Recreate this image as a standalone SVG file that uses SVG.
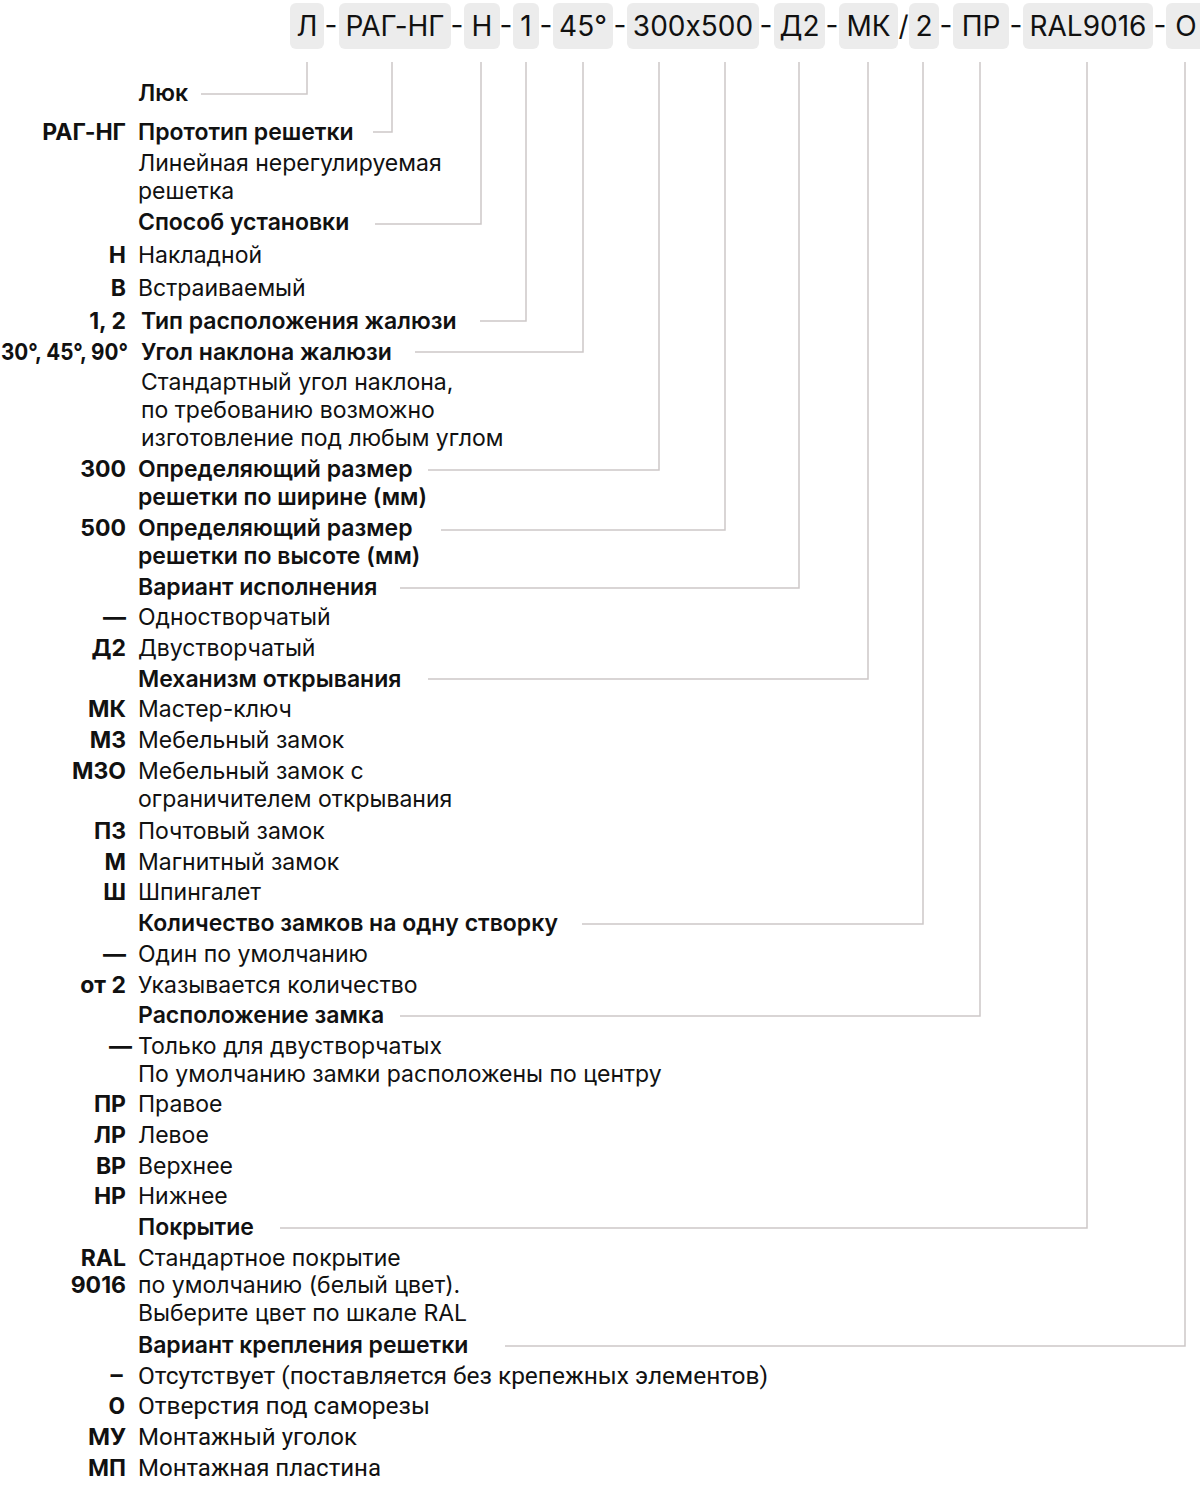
<svg xmlns="http://www.w3.org/2000/svg" width="1200" height="1485" viewBox="0 0 1200 1485">
<style>
text{font-family:Inter,"Noto Sans","Liberation Sans",sans-serif;fill:#111;font-feature-settings:"calt" 0}
.code{font-size:28px;text-anchor:middle}
.sep{font-size:28px;text-anchor:middle}
.box{fill:#ececec}
.h{font-size:23px;font-weight:600}
.k{font-size:23px;font-weight:700;text-anchor:end}
.b{font-size:23px;font-weight:400}
.c{font-family:Roboto,"Liberation Sans",sans-serif;font-size:24px}
.ck{font-family:Roboto,"Liberation Sans",sans-serif;font-size:24px;font-weight:700;text-anchor:end}
.ln{fill:none;stroke:#cdc8c8;stroke-width:1.5}
</style>
<rect width="1200" height="1485" fill="#fff"/>
<g id="code">
<rect class="box" x="290" y="3" width="34" height="46" rx="6"/><text class="code" x="307" y="36">Л</text>
<text class="sep" x="331" y="35">-</text>
<rect class="box" x="339" y="3" width="112" height="46" rx="6"/><text class="code" x="395" y="36">РАГ-НГ</text>
<text class="sep" x="457" y="35">-</text>
<rect class="box" x="464" y="3" width="36" height="46" rx="6"/><text class="code" x="482" y="36">Н</text>
<text class="sep" x="506" y="35">-</text>
<rect class="box" x="513" y="3" width="26" height="46" rx="6"/><text class="code" x="526" y="36">1</text>
<text class="sep" x="546" y="35">-</text>
<rect class="box" x="553" y="3" width="60" height="46" rx="6"/><text class="code" x="583" y="36">45°</text>
<text class="sep" x="620" y="35">-</text>
<rect class="box" x="627" y="3" width="132" height="46" rx="6"/><text class="code" x="693" y="36">300x500</text>
<text class="sep" x="766" y="35">-</text>
<rect class="box" x="774" y="3" width="51" height="46" rx="6"/><text class="code" x="799.5" y="36">Д2</text>
<text class="sep" x="832" y="35">-</text>
<rect class="box" x="839" y="3" width="59" height="46" rx="6"/><text class="code" x="868.5" y="36">МК</text>
<text class="sep" x="903.5" y="36">/</text>
<rect class="box" x="909" y="3" width="30" height="46" rx="6"/><text class="code" x="924" y="36">2</text>
<text class="sep" x="946" y="35">-</text>
<rect class="box" x="953" y="3" width="56" height="46" rx="6"/><text class="code" x="981" y="36">ПР</text>
<text class="sep" x="1016" y="35">-</text>
<rect class="box" x="1023" y="3" width="130" height="46" rx="6"/><text class="code" x="1088" y="36">RAL9016</text>
<text class="sep" x="1160" y="35">-</text>
<rect class="box" x="1166" y="3" width="48" height="46" rx="6"/><text class="code" x="1186" y="36">О</text>
</g>
<g id="connectors">
<path class="ln" d="M307 62V94H201"/>
<path class="ln" d="M392 62V132H373"/>
<path class="ln" d="M481 62V224H375"/>
<path class="ln" d="M526 62V321H480"/>
<path class="ln" d="M583 62V352H415"/>
<path class="ln" d="M659 62V470H428"/>
<path class="ln" d="M725 62V530H441"/>
<path class="ln" d="M799 62V588H400"/>
<path class="ln" d="M868 62V679H428"/>
<path class="ln" d="M923 62V924H582"/>
<path class="ln" d="M980 62V1016H400"/>
<path class="ln" d="M1087 62V1228H280"/>
<path class="ln" d="M1185 62V1346H505"/>
</g>
<g id="n-luk"><text class="h" x="138" y="101">Люк</text></g>
<g id="n-prototype">
<text class="k" x="126" y="140">РАГ-НГ</text><text class="h" x="138" y="140">Прототип решетки</text>
<text class="b" x="138" y="171">Линейная нерегулируемая</text>
<text class="b" x="138" y="199">решетка</text>
</g>
<g id="n-install">
<text class="h" x="138" y="230">Способ установки</text>
<text class="k" x="126" y="263">Н</text><text class="b" x="138" y="263">Накладной</text>
<text class="k" x="126" y="296">В</text><text class="b" x="138" y="296">Встраиваемый</text>
</g>
<g id="n-type"><text class="k" x="126" y="329">1, 2</text><text class="h" x="141" y="329">Тип расположения жалюзи</text></g>
<g id="n-angle">
<text class="k" x="128" y="360" textLength="127" lengthAdjust="spacingAndGlyphs">30°, 45°, 90°</text><text class="h" x="141" y="360">Угол наклона жалюзи</text>
<text class="b" x="141" y="390">Стандартный угол наклона,</text>
<text class="b" x="141" y="418">по требованию возможно</text>
<text class="b" x="141" y="446">изготовление под любым углом</text>
</g>
<g id="n-width">
<text class="k" x="126" y="477">300</text><text class="h" x="138" y="477">Определяющий размер</text>
<text class="h" x="138" y="505">решетки по ширине (мм)</text>
</g>
<g id="n-height">
<text class="k" x="126" y="536">500</text><text class="h" x="138" y="536">Определяющий размер</text>
<text class="h" x="138" y="564">решетки по высоте (мм)</text>
</g>
<g id="n-variant">
<text class="h" x="138" y="595">Вариант исполнения</text>
<text class="k" x="126" y="625">—</text><text class="b" x="138" y="625">Одностворчатый</text>
<text class="k" x="126" y="656">Д2</text><text class="b" x="138" y="656">Двустворчатый</text>
</g>
<g id="n-mechanism">
<text class="h" x="138" y="687">Механизм открывания</text>
<text class="k" x="126" y="717">МК</text><text class="b" x="138" y="717">Мастер-ключ</text>
<text class="k" x="126" y="748">МЗ</text><text class="b" x="138" y="748">Мебельный замок</text>
<text class="k" x="126" y="779">МЗО</text><text class="b" x="138" y="779">Мебельный замок с</text>
<text class="b" x="138" y="807">ограничителем открывания</text>
<text class="k" x="126" y="839">ПЗ</text><text class="b" x="138" y="839">Почтовый замок</text>
<text class="k" x="126" y="870">М</text><text class="b" x="138" y="870">Магнитный замок</text>
<text class="k" x="126" y="900">Ш</text><text class="b" x="138" y="900">Шпингалет</text>
</g>
<g id="n-count">
<text class="h" x="138" y="931">Количество замков на одну створку</text>
<text class="k" x="126" y="962">—</text><text class="b" x="138" y="962">Один по умолчанию</text>
<text class="k" x="126" y="993">от 2</text><text class="b" x="138" y="993">Указывается количество</text>
</g>
<g id="n-position">
<text class="h" x="138" y="1023">Расположение замка</text>
<text class="k" x="132" y="1054">—</text><text class="b" x="138" y="1054">Только для двустворчатых</text>
<text class="b" x="138" y="1082">По умолчанию замки расположены по центру</text>
<text class="k" x="126" y="1112">ПР</text><text class="b" x="138" y="1112">Правое</text>
<text class="k" x="126" y="1143">ЛР</text><text class="b" x="138" y="1143">Левое</text>
<text class="k" x="126" y="1174">ВР</text><text class="b" x="138" y="1174">Верхнее</text>
<text class="k" x="126" y="1204">НР</text><text class="b" x="138" y="1204">Нижнее</text>
</g>
<g id="n-coating">
<text class="h" x="138" y="1235">Покрытие</text>
<text class="k" x="126" y="1266">RAL</text><text class="b" x="138" y="1266">Стандартное покрытие</text>
<text class="k" x="126" y="1293">9016</text><text class="b" x="138" y="1293">по умолчанию (белый цвет).</text>
<text class="b" x="138" y="1321">Выберите цвет по шкале RAL</text>
</g>
<g id="n-mount">
<text class="h" x="138" y="1353">Вариант крепления решетки</text>
<text class="ck" x="124" y="1384">–</text><text class="c" x="138" y="1384" textLength="630" lengthAdjust="spacingAndGlyphs">Отсутствует (поставляется без крепежных элементов)</text>
<text class="ck" x="125" y="1414">О</text><text class="c" x="138" y="1414" textLength="292" lengthAdjust="spacingAndGlyphs">Отверстия под саморезы</text>
<text class="ck" x="126" y="1445" textLength="38" lengthAdjust="spacingAndGlyphs">МУ</text><text class="c" x="138" y="1445" textLength="219" lengthAdjust="spacingAndGlyphs">Монтажный уголок</text>
<text class="ck" x="126" y="1476" textLength="38" lengthAdjust="spacingAndGlyphs">МП</text><text class="c" x="138" y="1476" textLength="243" lengthAdjust="spacingAndGlyphs">Монтажная пластина</text>
</g>
</svg>
